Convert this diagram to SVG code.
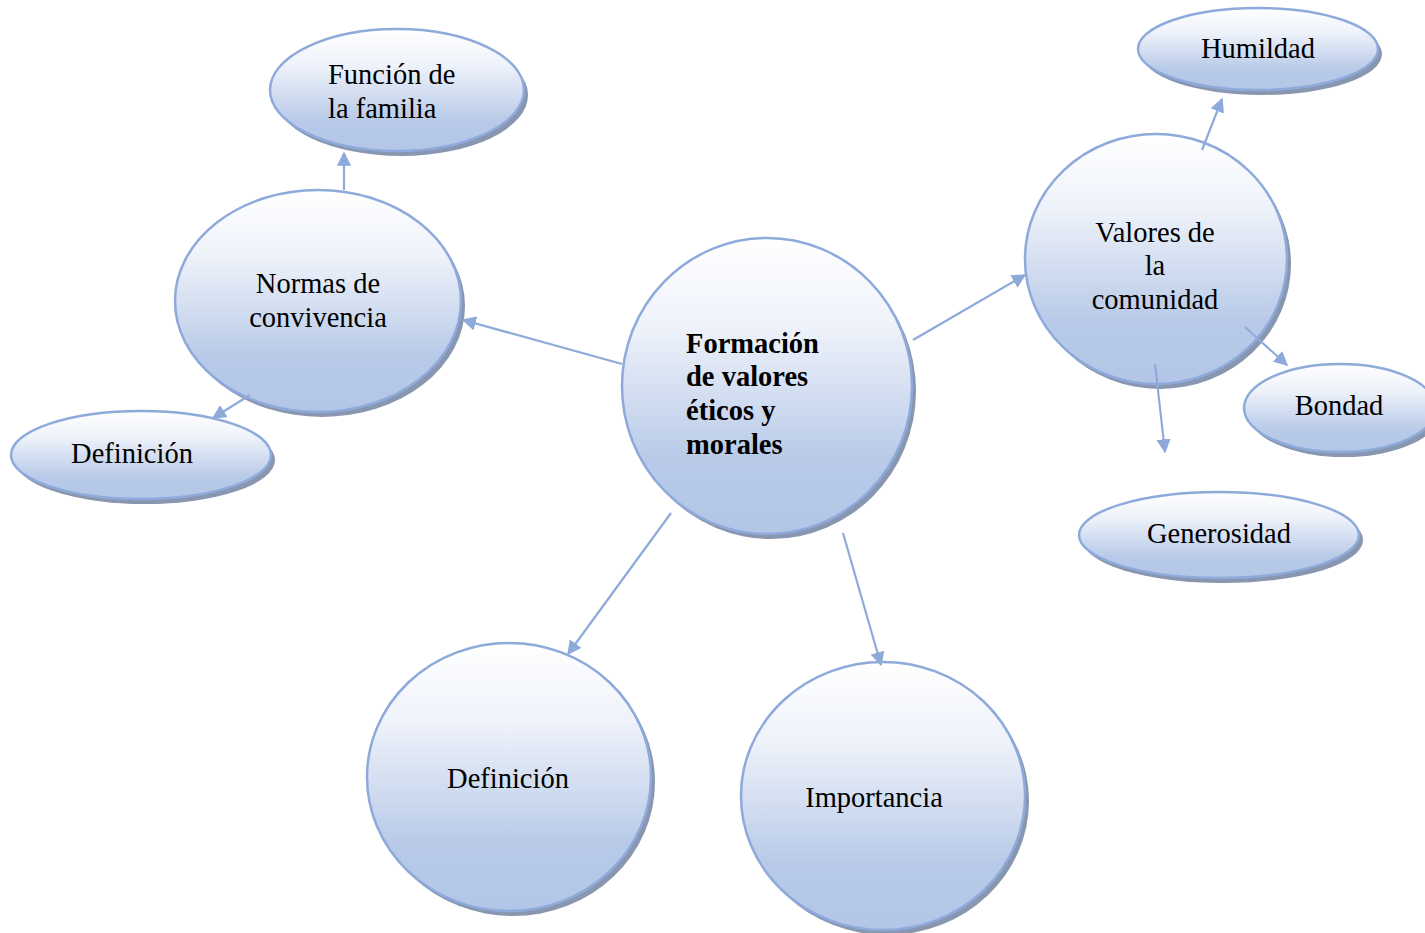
<svg xmlns="http://www.w3.org/2000/svg" width="1425" height="933" viewBox="0 0 1425 933">
<defs>
<linearGradient id="g" x1="0" y1="0" x2="0" y2="1">
<stop offset="0" stop-color="#ffffff"/>
<stop offset="0.3" stop-color="#eef2fa"/>
<stop offset="0.75" stop-color="#b8cae8"/>
<stop offset="1" stop-color="#b3c6e7"/>
</linearGradient>
<marker id="ah" viewBox="0 0 10 10" refX="9" refY="5" markerWidth="6.5" markerHeight="6.5" orient="auto" markerUnits="strokeWidth">
<path d="M0,0 L10,5 L0,10 Z" fill="#8eaadb"/>
</marker>
</defs>
<style>
.sh{fill:#8896b0}
.nd{fill:url(#g);stroke:#8eaadb;stroke-width:2.5}
text{font-family:"Liberation Serif","Times New Roman",serif;font-size:28.5px;fill:#000}
.c{text-anchor:middle}
.b{font-weight:bold}
.cn line{stroke:#8eaadb;stroke-width:2.2;marker-end:url(#ah)}
</style>
<rect width="1425" height="933" fill="#ffffff"/>
<g id="central">
<ellipse class="sh" cx="771" cy="391" rx="145" ry="148"/>
<ellipse class="nd" cx="767" cy="386" rx="145" ry="148"/>
<text class="b" x="686" y="353">Formación</text>
<text class="b" x="686" y="386">de valores</text>
<text class="b" x="686" y="420">éticos y</text>
<text class="b" x="686" y="454">morales</text>
</g>
<g id="normas">
<ellipse class="sh" cx="322" cy="306" rx="143" ry="111"/>
<ellipse class="nd" cx="318" cy="301" rx="143" ry="111"/>
<text class="c" x="318" y="293">Normas de</text>
<text class="c" x="318" y="327">convivencia</text>
</g>
<g id="funcion">
<ellipse class="sh" cx="401" cy="95" rx="127" ry="61"/>
<ellipse class="nd" cx="397" cy="90" rx="127" ry="61"/>
<text x="328" y="84">Función de</text>
<text x="328" y="118">la familia</text>
</g>
<g id="definicion1">
<ellipse class="sh" cx="145" cy="460" rx="130" ry="44"/>
<ellipse class="nd" cx="141" cy="455" rx="130" ry="44"/>
<text class="c" x="132" y="463">Definición</text>
</g>
<g id="valores">
<ellipse class="sh" cx="1160" cy="264" rx="131" ry="125"/>
<ellipse class="nd" cx="1156" cy="259" rx="131" ry="125"/>
<text class="c" x="1155" y="242">Valores de</text>
<text class="c" x="1155" y="275">la</text>
<text class="c" x="1155" y="309">comunidad</text>
</g>
<g id="humildad">
<ellipse class="sh" cx="1262" cy="54" rx="120" ry="41"/>
<ellipse class="nd" cx="1258" cy="49" rx="120" ry="41"/>
<text class="c" x="1258" y="58">Humildad</text>
</g>
<g id="bondad">
<ellipse class="sh" cx="1344" cy="413" rx="96" ry="44"/>
<ellipse class="nd" cx="1340" cy="408" rx="96" ry="44"/>
<text class="c" x="1339" y="415">Bondad</text>
</g>
<g id="generosidad">
<ellipse class="sh" cx="1223" cy="540" rx="140" ry="43"/>
<ellipse class="nd" cx="1219" cy="535" rx="140" ry="43"/>
<text class="c" x="1219" y="543">Generosidad</text>
</g>
<g id="definicion2">
<ellipse class="sh" cx="513" cy="782" rx="142" ry="134"/>
<ellipse class="nd" cx="509" cy="777" rx="142" ry="134"/>
<text class="c" x="508" y="788">Definición</text>
</g>
<g id="importancia">
<ellipse class="sh" cx="887" cy="801" rx="142" ry="134"/>
<ellipse class="nd" cx="883" cy="796" rx="142" ry="134"/>
<text class="c" x="874" y="807">Importancia</text>
</g>
<g id="connectors" class="cn">
<line x1="622" y1="364" x2="463" y2="320"/>
<line x1="344" y1="190" x2="344" y2="153"/>
<line x1="250" y1="395" x2="213" y2="418"/>
<line x1="913" y1="340" x2="1025" y2="275"/>
<line x1="1202" y1="150" x2="1222" y2="99"/>
<line x1="1245" y1="327" x2="1287" y2="365"/>
<line x1="1155" y1="364" x2="1165" y2="452"/>
<line x1="671" y1="513" x2="568" y2="654"/>
<line x1="843" y1="533" x2="881" y2="665"/>
</g>
</svg>
